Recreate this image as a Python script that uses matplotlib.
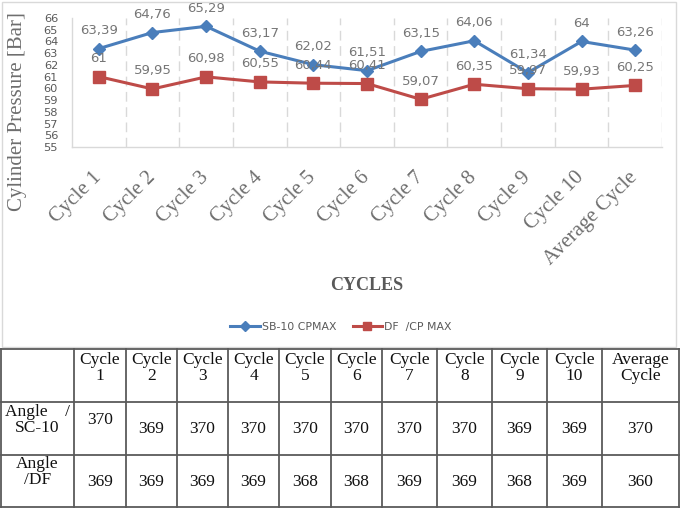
import matplotlib
matplotlib.use("Agg")
import matplotlib.pyplot as plt
from matplotlib.lines import Line2D
from matplotlib.patches import Rectangle

# ---------------- data ----------------
categories = ["Cycle 1", "Cycle 2", "Cycle 3", "Cycle 4", "Cycle 5", "Cycle 6",
              "Cycle 7", "Cycle 8", "Cycle 9", "Cycle 10", "Average Cycle"]
sb10_cpmax = [63.39, 64.76, 65.29, 63.17, 62.02, 61.51, 63.15, 64.06, 61.34, 64.00, 63.26]
df_cpmax = [61.00, 59.95, 60.98, 60.55, 60.44, 60.41, 59.07, 60.35, 59.97, 59.93, 60.25]
sb10_labels = ["63,39", "64,76", "65,29", "63,17", "62,02", "61,51", "63,15", "64,06", "61,34", "64", "63,26"]
df_labels = ["61", "59,95", "60,98", "60,55", "60,44", "60,41", "59,07", "60,35", "59,97", "59,93", "60,25"]
y_ticks = list(range(55, 67))

table_header = ["Cycle\n1", "Cycle\n2", "Cycle\n3", "Cycle\n4", "Cycle\n5", "Cycle\n6",
                "Cycle\n7", "Cycle\n8", "Cycle\n9", "Cycle\n10", "Average\nCycle"]
row_labels = ["Angle    /\nSC-10", "Angle\n/DF"]
angle_sc10 = [370, 369, 370, 370, 370, 370, 370, 370, 369, 369, 370]
angle_df = [369, 369, 369, 369, 368, 368, 369, 369, 368, 369, 360]

# ---------------- figure ----------------
W, H = 681, 511
fig = plt.figure(figsize=(W / 100, H / 100), dpi=100)
fig.patch.set_facecolor("white")

# overlay for chart border and table (pixel coordinates)
ov = fig.add_axes([0, 0, 1, 1], zorder=0)
ov.set_xlim(0, W)
ov.set_ylim(H, 0)
ov.axis("off")
ov.add_patch(Rectangle((2, 2), 674, 345, fill=False, edgecolor="#D9D9D9", lw=1.0))

# chart axes
L, R, T, B = 72, 662, 18, 147
ax = fig.add_axes([L / W, 1 - B / H, (R - L) / W, (B - T) / H], zorder=2)
ax.set_facecolor("none")
x = list(range(len(categories)))
blue = "#4A7EBB"
red = "#BE4B48"
ax.plot(x, sb10_cpmax, color=blue, lw=2.2, marker="D", markersize=6.5,
        markeredgecolor=blue, label="SB-10 CPMAX", zorder=4)
ax.plot(x, df_cpmax, color=red, lw=2.2, marker="s", markersize=8,
        markeredgecolor=red, label="DF  /CP MAX", zorder=4)

lab_col = "#767676"
for xi, v, s in zip(x, sb10_cpmax, sb10_labels):
    ax.annotate(s, (xi, v), xytext=(0, 13), textcoords="offset points",
                ha="center", va="center", fontsize=9.5, color=lab_col,
                family="DejaVu Sans", zorder=5)
for xi, v, s in zip(x, df_cpmax, df_labels):
    ax.annotate(s, (xi, v), xytext=(0, 13), textcoords="offset points",
                ha="center", va="center", fontsize=9.5, color=lab_col,
                family="DejaVu Sans", zorder=5)

ax.set_xlim(-0.5, len(categories) - 0.5)
ax.set_ylim(55, 66)
ax.set_yticks(y_ticks)
ax.set_yticklabels([str(t) for t in y_ticks], family="DejaVu Sans", fontsize=8.2,
                   color="#595959")
ax.set_xticks(x)
ax.set_xticklabels(categories, rotation=45, ha="right", va="center",
                   rotation_mode="anchor", family="Liberation Serif",
                   fontsize=15, color="#6E6E6E")
ax.tick_params(axis="both", length=0)
ax.tick_params(axis="y", pad=10)
ax.tick_params(axis="x", pad=20)
for xb in [i + 0.5 for i in range(len(categories))]:
    ax.axvline(xb, color="#D9D9D9", lw=1.0, ls=(0, (7, 4)), zorder=1)
for side in ["top", "right"]:
    ax.spines[side].set_visible(False)
for side in ["left", "bottom"]:
    ax.spines[side].set_color("#D9D9D9")
    ax.spines[side].set_linewidth(1.0)

fig.text(18 / W, 1 - 112 / H, "Cylinder Pressure [Bar]", rotation=90,
         ha="center", va="center", family="Liberation Serif", fontsize=15,
         color="#6E6E6E")
fig.text(367 / W, 1 - 285 / H, "CYCLES", ha="center", va="center",
         family="Liberation Serif", fontsize=13, fontweight="bold", color="#595959")

handles = [Line2D([], [], color=blue, lw=2.2, marker="D", markersize=5),
           Line2D([], [], color=red, lw=2.2, marker="s", markersize=6)]
fig.legend(handles, ["SB-10 CPMAX", "DF  /CP MAX"], loc="center",
           bbox_to_anchor=(341 / W, 1 - 327 / H), ncol=2, frameon=False,
           prop={"family": "DejaVu Sans", "size": 7.8}, labelcolor="#595959",
           handlelength=2.7, handletextpad=0.2, columnspacing=1.5)

# ---------------- table ----------------
col_x = [1, 74, 126, 177, 228, 279, 331, 382, 437, 492, 547, 602, 679]
row_y = [349, 402, 455, 507]
tcol = "#5A5A5A"
for cx in col_x:
    ov.plot([cx, cx], [row_y[0], row_y[-1]], color=tcol, lw=1.3)
for ry in row_y:
    ov.plot([col_x[0], col_x[-1]], [ry, ry], color=tcol, lw=1.3)

tfont = dict(family="Liberation Serif", fontsize=12.5, color="#111111",
             ha="center", va="center", linespacing=1.0)
for i, h in enumerate(table_header):
    cxm = (col_x[i + 1] + col_x[i + 2]) / 2
    ov.text(cxm, 368, h, **tfont)
ov.text((col_x[0] + col_x[1]) / 2, 420, row_labels[0], **tfont)
ov.text((col_x[0] + col_x[1]) / 2, 472, row_labels[1], **tfont)
for i, v in enumerate(angle_sc10):
    cxm = (col_x[i + 1] + col_x[i + 2]) / 2
    ov.text(cxm, 420 if i == 0 else 429, str(v), **tfont)
for i, v in enumerate(angle_df):
    cxm = (col_x[i + 1] + col_x[i + 2]) / 2
    ov.text(cxm, 482, str(v), **tfont)

fig.savefig("out.png", dpi=100, facecolor="white")
